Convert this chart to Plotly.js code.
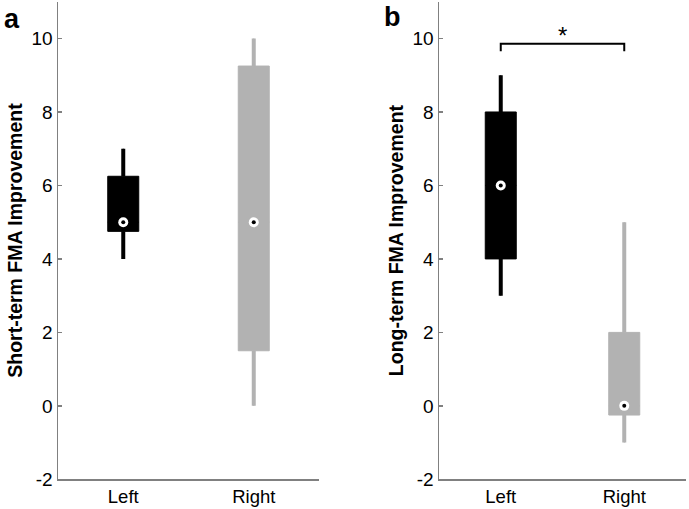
<!DOCTYPE html>
<html>
<head>
<meta charset="utf-8">
<script src="https://cdn.plot.ly/plotly-3.0.1.min.js"></script>
<style>html,body{margin:0;padding:0;background:#fff;}#chart{width:689px;height:509px;}</style>
</head>
<body>
<div id="chart"></div>
<script>
// ---- data ----
const categories = ['Left', 'Right'];
const shortQ1 = [4.75, 1.5];
const shortMedian = [5, 5];
const shortQ3 = [6.25, 9.25];
const shortLow = [4, 0];
const shortHigh = [7, 10];

const longQ1 = [4, -0.25];
const longMedian = [6, 0];
const longQ3 = [8, 2];
const longLow = [3, -1];
const longHigh = [9, 5];

const bracketY = [9.65, 9.86, 9.86, 9.65];
const sigLabel = '*';
const yTicks = [-2, 0, 2, 4, 6, 8, 10];
const yTickLabels = ['-2', '0', '2', '4', '6', '8', '10'];

// ---- styling ----
const colors = ['#000000', '#b2b2b2'];
const axisGrey = '#808080';
const font = 'Liberation Sans, Arial, sans-serif';

function boxes(q1, med, q3, lo, hi, xa, ya, w) {
  const out = [];
  categories.forEach((c, i) => {
    out.push({
      type: 'box', x: [c], q1: [q1[i]], median: [med[i]], q3: [q3[i]],
      lowerfence: [lo[i]], upperfence: [hi[i]],
      xaxis: xa, yaxis: ya, width: w, whiskerwidth: 0,
      fillcolor: colors[i], line: {color: colors[i], width: 1},
      hoverinfo: 'skip', showlegend: false
    });
    // thick whiskers from the same values
    out.push({
      type: 'scatter', mode: 'lines', x: [c, c, null, c, c],
      y: [lo[i], q1[i], null, q3[i], hi[i]], xaxis: xa, yaxis: ya,
      line: {color: colors[i], width: 4}, hoverinfo: 'skip', showlegend: false
    });
  });
  return out;
}
function medians(med, xa, ya) {
  return [
    {type: 'scatter', mode: 'markers', x: categories, y: med, xaxis: xa, yaxis: ya,
     marker: {color: '#ffffff', size: 10, line: {width: 0}}, hoverinfo: 'skip', showlegend: false},
    {type: 'scatter', mode: 'markers', x: categories, y: med, xaxis: xa, yaxis: ya,
     marker: {color: '#000000', size: 4, line: {width: 0}}, hoverinfo: 'skip', showlegend: false}
  ];
}

const traces = [
  ...boxes(shortQ1, shortMedian, shortQ3, shortLow, shortHigh, 'x', 'y', 0.2375),
  ...medians(shortMedian, 'x', 'y'),
  ...boxes(longQ1, longMedian, longQ3, longLow, longHigh, 'x2', 'y2', 0.251),
  ...medians(longMedian, 'x2', 'y2'),
  {type: 'scatter', mode: 'lines', x: [categories[0], categories[0], categories[1], categories[1]],
   y: bracketY, xaxis: 'x2', yaxis: 'y2', line: {color: '#000', width: 2},
   hoverinfo: 'skip', showlegend: false}
];

const xBase = {
  type: 'category', range: [-0.5, 1.5], showline: true, linecolor: axisGrey, linewidth: 1.5,
  ticks: '', showgrid: false, zeroline: false, fixedrange: true,
  tickfont: {family: font, size: 18.5, color: '#000'}
};
const yBase = {
  range: [-2, 11], tickvals: yTicks, ticktext: yTickLabels, showline: true, linecolor: axisGrey, linewidth: 1.5,
  ticks: 'inside', ticklen: 4, tickcolor: axisGrey, tickwidth: 1.5,
  showgrid: false, zeroline: false, fixedrange: true,
  tickfont: {family: font, size: 19, color: '#000'}, domain: [0.0583, 0.9965]
};

const layout = {
  width: 689, height: 509,
  margin: {l: 0, r: 0, t: 0, b: 0},
  paper_bgcolor: '#fff', plot_bgcolor: '#fff',
  boxmode: 'overlay',
  xaxis: Object.assign({}, xBase, {domain: [58/689, 319/689], anchor: 'y'}),
  xaxis2: Object.assign({}, xBase, {domain: [439/689, 686/689], anchor: 'y2'}),
  yaxis: Object.assign({}, yBase, {anchor: 'x',
    title: {text: '<b>Short-term FMA Improvement</b>', font: {family: font, size: 19.5, color: '#000'}, standoff: 3}}),
  yaxis2: Object.assign({}, yBase, {anchor: 'x2',
    title: {text: '<b>Long-term FMA Improvement</b>', font: {family: font, size: 19.5, color: '#000'}, standoff: 3}}),
  annotations: [
    {text: '<b>a</b>', xref: 'paper', yref: 'paper', x: 2/689, y: 1 - 2/509, xanchor: 'left', yanchor: 'top',
     showarrow: false, font: {family: font, size: 27, color: '#000'}},
    {text: '<b>b</b>', xref: 'paper', yref: 'paper', x: 382/689, y: 1 - 0/509, xanchor: 'left', yanchor: 'top',
     showarrow: false, font: {family: font, size: 27, color: '#000'}},
    {text: sigLabel, xref: 'x2', yref: 'y2', x: 0.5, y: 10.08, xanchor: 'center', yanchor: 'middle',
     showarrow: false, font: {family: font, size: 24, color: '#000'}}
  ]
};

Plotly.newPlot('chart', traces, layout, {displayModeBar: false, staticPlot: true});
</script>
</body>
</html>
